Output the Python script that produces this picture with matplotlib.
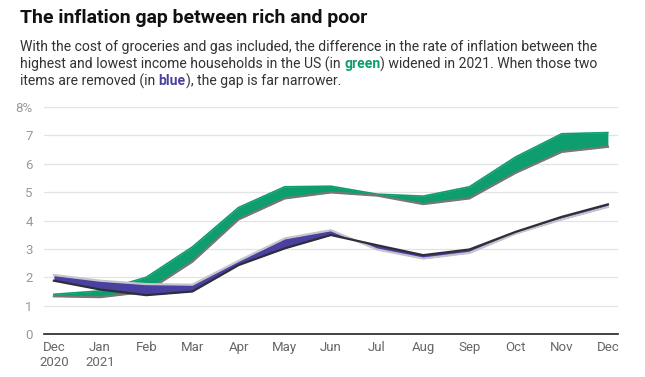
import matplotlib.pyplot as plt

plt.rcParams['font.family'] = ['Roboto', 'DejaVu Sans']

months = ['Dec\n2020', 'Jan\n2021', 'Feb', 'Mar', 'Apr', 'May', 'Jun',
          'Jul', 'Aug', 'Sep', 'Oct', 'Nov', 'Dec']

# all items (green band)
green_high = [1.40, 1.52, 2.00, 3.07, 4.46, 5.19, 5.21, 4.93, 4.86, 5.19, 6.24, 7.06, 7.10]
green_low = [1.33, 1.30, 1.49, 2.55, 4.04, 4.78, 4.99, 4.88, 4.58, 4.78, 5.68, 6.42, 6.60]

# without groceries and gas (blue band)
blue_light = [2.08, 1.88, 1.76, 1.74, 2.58, 3.37, 3.66, 2.98, 2.66, 2.86, 3.54, 4.04, 4.48]
blue_dark = [1.88, 1.57, 1.37, 1.50, 2.43, 3.02, 3.49, 3.13, 2.78, 2.98, 3.60, 4.13, 4.57]

green = '#0d9d6e'
blue = '#4a40a0'

fig = plt.figure(figsize=(6.45, 3.77), dpi=100)
ax = fig.add_axes([0.068, 0.114, 0.890, 0.602])

x = list(range(len(months)))

ax.fill_between(x, green_low, green_high, color=green, lw=0, zorder=3)
ax.plot(x, green_high, color=green, lw=1.2, zorder=3)
ax.plot(x, green_low, color='#777777', lw=1.6, zorder=4)

ax.fill_between(x, blue_dark, blue_light, color=blue, lw=0, zorder=5)
ax.plot(x, blue_light, color='#c4c4cc', lw=1.6, zorder=6)
ax.plot(x, blue_dark, color='#2e2e3a', lw=1.6, zorder=6)

ax.set_xlim(-0.217, 12.217)
ax.set_ylim(0, 8)
ax.set_yticks(range(9))
ax.set_yticklabels([str(i) for i in range(8)] + ['8%'])
ax.set_xticks(x)
ax.set_xticklabels(months)
ax.grid(axis='y', color='#e3e3e3', lw=0.9, zorder=0)
for s in ['top', 'right', 'left']:
    ax.spines[s].set_visible(False)
ax.spines['bottom'].set_color('#222222')
ax.spines['bottom'].set_linewidth(1.2)
ax.tick_params(axis='y', length=0, pad=8, labelsize=9.5, labelcolor='#999999')
ax.tick_params(axis='x', length=0, pad=5, labelsize=9.5, labelcolor='#666666')

fig.text(0.031, 0.952, 'The inflation gap between rich and poor', fontsize=14,
         fontweight='bold', color='#111111', va='center')

# subtitle, with coloured words
fs = 10.05
tc = '#333333'
lines = [
    [('With the cost of groceries and gas included, the difference in the rate of inflation between the', tc, 'normal')],
    [('highest and lowest income households in the US (in ', tc, 'normal'), ('green', green, 'bold'),
     (') widened in 2021. When those two', tc, 'normal')],
    [('items are removed (in ', tc, 'normal'), ('blue', blue, 'bold'),
     ('), the gap is far narrower.', tc, 'normal')],
]
ys = [0.876, 0.830, 0.784]
fig.canvas.draw()
r = fig.canvas.get_renderer()
for parts, yy in zip(lines, ys):
    xx = 0.031
    for s, c, w in parts:
        t = fig.text(xx, yy, s, fontsize=fs, color=c, fontweight=w, va='center')
        bb = t.get_window_extent(renderer=r)
        xx += bb.width / fig.bbox.width

fig.savefig('out.png', dpi=100)
